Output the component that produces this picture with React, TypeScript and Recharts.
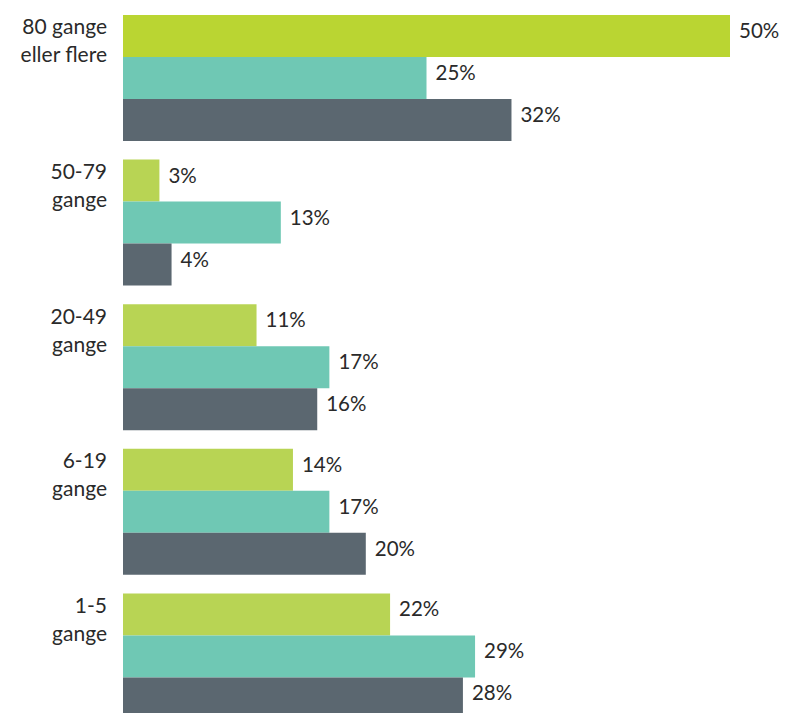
import { BarChart, Bar, XAxis, YAxis, LabelList, Cell } from 'recharts';

const categories = ['80 gange|eller flere', '50-79|gange', '20-49|gange', '6-19|gange', '1-5|gange'];
const greenValues = [50, 3, 11, 14, 22];
const tealValues = [25, 13, 17, 17, 29];
const slateValues = [32, 4, 16, 20, 28];

const data = categories.map((name, i) => ({
  name,
  green: greenValues[i],
  teal: tealValues[i],
  slate: slateValues[i],
}));

const FONT = 'Lato, "Open Sans", sans-serif';
const TEXT = '#2a2a2a';

const CategoryTick = ({ x, y, payload }: any) => {
  const lines = String(payload.value).split('|');
  return (
    <text x={x - 8} y={y} textAnchor="end" fill={TEXT} fontFamily={FONT} fontSize={21}>
      {lines.map((line, i) => (
        <tspan key={i} x={x - 8} y={y - 43 + i * 28}>
          {line}
        </tspan>
      ))}
    </text>
  );
};

const ValueLabel = ({ x, y, width, height, value }: any) => (
  <text
    x={x + width + 9}
    y={y + height / 2 - 6}
    dominantBaseline="central"
    fill={TEXT}
    fontFamily={FONT}
    fontSize={20.5}
  >
    {`${value}%`}
  </text>
);

export default function App() {
  return (
    <div style={{ position: 'absolute', left: 0, top: 0, width: 790, height: 713, overflow: 'hidden', background: '#fff' }}>
      <BarChart
        width={790}
        height={728}
        data={data}
        layout="vertical"
        margin={{ top: 5, right: 60, bottom: 0, left: 0 }}
        barCategoryGap={10}
        barGap={0}
      >
        <XAxis type="number" domain={[0, 50]} hide />
        <YAxis
          type="category"
          dataKey="name"
          width={123}
          axisLine={false}
          tickLine={false}
          tick={<CategoryTick />}
        />
        <Bar dataKey="green" fill="#b8d454" isAnimationActive={false}>
          {data.map((_, i) => (
            <Cell key={i} fill={i === 0 ? '#bad532' : '#b8d454'} />
          ))}
          <LabelList dataKey="green" content={<ValueLabel />} />
        </Bar>
        <Bar dataKey="teal" fill="#6fc8b4" isAnimationActive={false}>
          <LabelList dataKey="teal" content={<ValueLabel />} />
        </Bar>
        <Bar dataKey="slate" fill="#5b6770" isAnimationActive={false}>
          <LabelList dataKey="slate" content={<ValueLabel />} />
        </Bar>
      </BarChart>
    </div>
  );
}
